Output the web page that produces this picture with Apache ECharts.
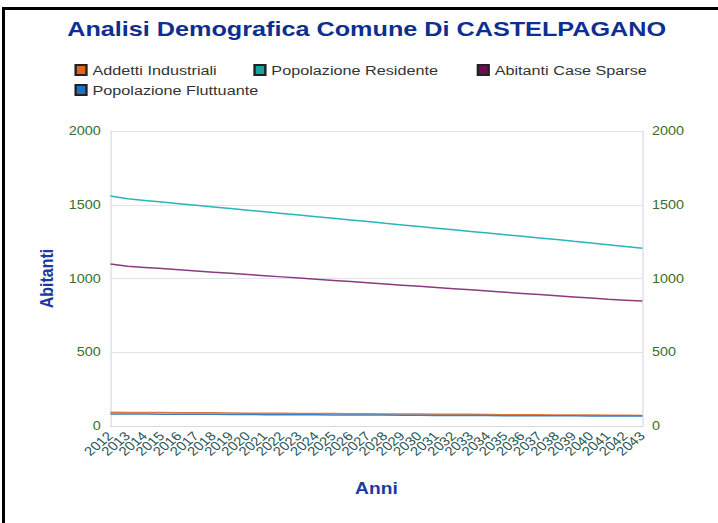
<!DOCTYPE html>
<html>
<head>
<meta charset="utf-8">
<script src="https://cdn.jsdelivr.net/npm/echarts@6/dist/echarts.min.js"></script>
<style>
  html, body { margin: 0; padding: 0; background: #fff; overflow: hidden; }
  /* the chart is laid out on a narrower canvas and widened horizontally */
  #chart { width: 598px; height: 523px; transform: scaleX(1.2007); transform-origin: 0 0; }
  #frame { position: absolute; left: 2px; top: 7px; width: 800px; height: 600px;
           border-left: 3px solid #000; border-top: 3px solid #000; pointer-events: none; }
</style>
</head>
<body>
<div id="chart"></div>
<div id="frame"></div>
<script>
// Projected demographic series, one value per year
const anni = ['2012','2013','2014','2015','2016','2017','2018','2019','2020','2021','2022','2023','2024','2025','2026','2027',
              '2028','2029','2030','2031','2032','2033','2034','2035','2036','2037','2038','2039','2040','2041','2042','2043'];
const addettiIndustriali = [93,92,91,91,90,89,89,88,87,87,86,85,85,84,83,83,82,81,81,80,79,79,78,77,77,76,75,75,74,73,73,72];
const popolazioneResidente = [1560,1540,1529,1518,1507,1496,1485,1474,1463,1452,1441,1430,1419,1408,1397,1386,
                              1374,1363,1352,1341,1330,1319,1308,1297,1286,1275,1264,1252,1241,1229,1217,1205];
const abitantiCaseSparse = [1098,1083,1075,1067,1059,1051,1043,1035,1027,1019,1011,1003,995,987,979,971,
                            963,955,947,939,931,923,915,907,899,891,883,875,867,859,853,847];
const popolazioneFluttuante = [82,81,81,80,80,79,79,78,78,77,77,76,76,75,75,74,74,73,73,72,72,71,71,70,70,69,69,69,68,68,68,67];
const yTicks = [0, 500, 1000, 1500, 2000];

const names = ['Addetti Industriali', 'Popolazione Residente', 'Abitanti Case Sparse', 'Popolazione Fluttuante'];
const iconColors = ['#e0661c', '#14a3a0', '#6c0f58', '#1b74c2'];
const lineColors = ['#e07a3c', '#2bb5b8', '#8a3c80', '#3a80c8'];
const values = [addettiIndustriali, popolazioneResidente, abitantiCaseSparse, popolazioneFluttuante];

const chart = echarts.init(document.getElementById('chart'), null, { renderer: 'svg' });

const legendText = { fontFamily: 'Liberation Sans', fontSize: 13.5, color: '#333' };
const legendBase = {
  icon: 'rect', itemWidth: 9, itemHeight: 10, itemGap: 6, orient: 'vertical',
  textStyle: legendText, padding: 0, selectedMode: false
};

const axisLabelY = { fontFamily: 'Liberation Sans', fontSize: 12, color: '#3b6e2c', margin: 8 };
const tickFormatter = v => yTicks.includes(v) ? String(v) : '';

chart.setOption({
  animation: false,
  title: {
    text: 'Analisi Demografica Comune Di CASTELPAGANO',
    left: 51, top: 13,
    textStyle: { fontFamily: 'Liberation Sans', fontSize: 21, fontWeight: 'bold', color: '#0d2f8f' }
  },
  legend: [
    Object.assign({}, legendBase, { left: 62, top: 63, data: [names[0], names[3]] }),
    Object.assign({}, legendBase, { left: 211, top: 63, data: [names[1]] }),
    Object.assign({}, legendBase, { left: 397, top: 63, data: [names[2]] })
  ],
  grid: { left: 92, right: 63, top: 131, bottom: 97, containLabel: false },
  xAxis: {
    type: 'category', data: anni, boundaryGap: false,
    name: 'Anni', nameLocation: 'middle', nameGap: 55,
    nameTextStyle: { fontFamily: 'Liberation Sans', fontSize: 16, fontWeight: 'bold', color: '#1a3aa0' },
    axisLine: { lineStyle: { color: '#d8d8e2' } },
    axisTick: { show: false },
    axisLabel: { rotate: 45, interval: 0, fontFamily: 'Liberation Sans', fontSize: 12.5, color: '#2a5656', margin: 8 }
  },
  yAxis: [
    {
      type: 'value', min: 0, max: 2000, interval: 500,
      name: 'Abitanti', nameLocation: 'middle', nameGap: 30,
      nameTextStyle: { fontFamily: 'Liberation Sans', fontSize: 16, fontWeight: 'bold', color: '#1a3aa0' },
      axisLine: { show: true, lineStyle: { color: '#d8d8e2' } },
      axisTick: { show: false },
      splitLine: { lineStyle: { color: '#e2e2ea' } },
      axisLabel: Object.assign({}, axisLabelY, { formatter: tickFormatter })
    },
    {
      type: 'value', min: 0, max: 2000, interval: 500, position: 'right',
      axisLine: { show: true, lineStyle: { color: '#d8d8e2' } },
      axisTick: { show: false },
      splitLine: { show: false },
      axisLabel: Object.assign({}, axisLabelY, { formatter: tickFormatter })
    }
  ],
  series: names.map((n, i) => ({
    name: n, type: 'line', data: values[i], showSymbol: false, symbol: 'none',
    color: iconColors[i],
    lineStyle: { color: lineColors[i], width: 1.5 },
    itemStyle: { color: iconColors[i], borderColor: '#222', borderWidth: 1 }
  }))
});
</script>
</body>
</html>
